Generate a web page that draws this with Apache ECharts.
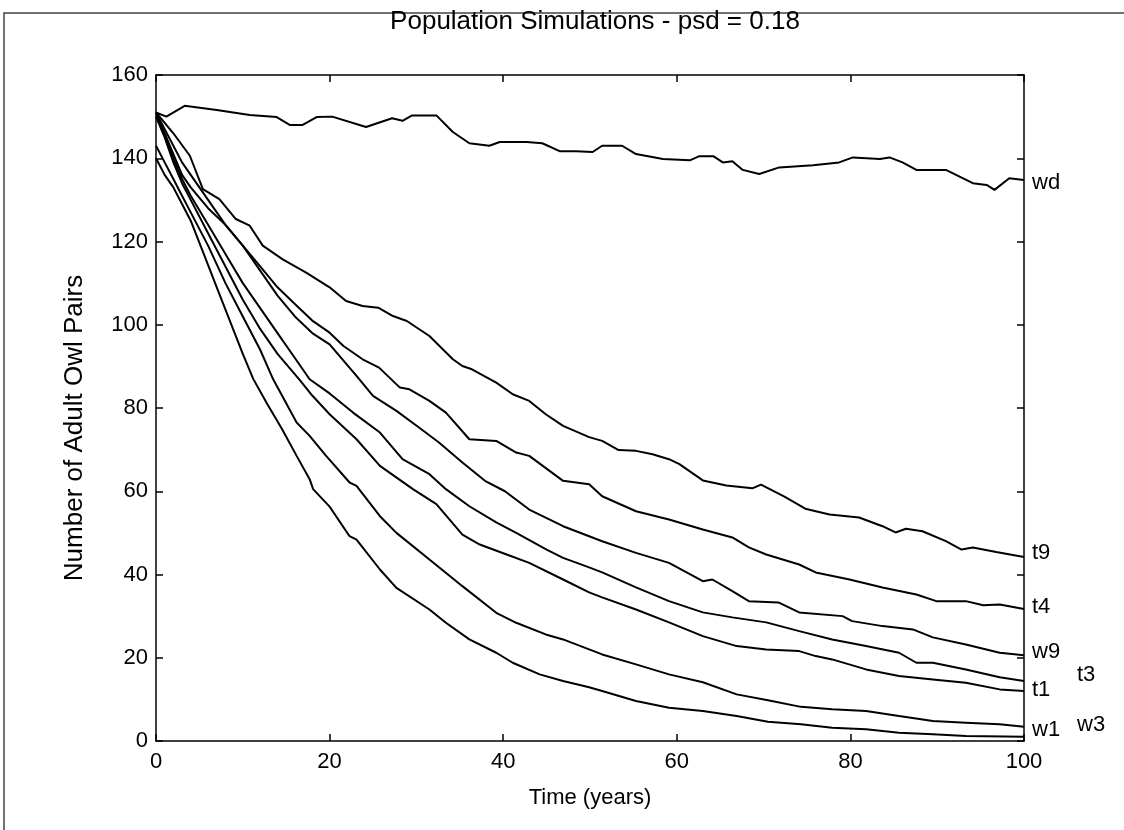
<!DOCTYPE html>
<html>
<head>
<meta charset="utf-8">
<title>Population Simulations</title>
<script src="https://cdn.jsdelivr.net/npm/echarts@6/dist/echarts.min.js"></script>
<style>
  html, body { margin: 0; padding: 0; background: #fff; }
  #chart { width: 1124px; height: 830px; }
</style>
</head>
<body>
<div id="chart"></div>
<script>
'use strict';
// axis ticks
var xTicks = [0, 20, 40, 60, 80, 100];
var yTicks = [0, 20, 40, 60, 80, 100, 120, 140, 160];

// series [year, pairs]
var wd = [[0,151],[1.2,150],[3.3,152.6],[7,151.6],[10.8,150.4],[13.9,149.9],[15.4,148],[16.9,148],[18.5,149.9],[20.3,150],
  [24.2,147.5],[27.2,149.6],[28.4,149],[29.5,150.3],[32.3,150.3],[34.2,146.3],[36.1,143.6],[38.4,143],[39.6,143.9],[42.7,143.9],
  [44.5,143.6],[46.5,141.7],[48.4,141.7],[50.3,141.5],[51.4,143],[53.7,143],[55.3,141],[58.4,139.8],[61.5,139.5],[62.6,140.5],
  [64.2,140.5],[65.3,139],[66.4,139.3],[67.6,137.2],[69.5,136.2],[71.8,137.8],[75.7,138.3],[78.7,139],[80.3,140.2],[83.4,139.8],
  [84.5,140.2],[86,139],[87.6,137.2],[91,137.2],[94.1,134],[95.7,133.6],[96.6,132.4],[98.3,135.2],[100,134.8]];
var t9 = [[0,151],[2,146],[3.9,140.6],[5.4,132.6],[7.3,130.2],[9.2,125.4],[10.8,123.8],[12.3,119],[14.6,115.7],[17.3,112.5],
  [20,109],[21.9,105.7],[23.8,104.5],[25.6,104.1],[27.3,102.1],[28.9,100.9],[31.5,97.3],[34.2,91.7],[35.3,90.1],[36.4,89.3],
  [39.2,86.1],[41.1,83.3],[43,81.7],[44.9,78.5],[46.9,75.7],[49.9,73],[51.4,72.1],[53.3,69.9],[55.3,69.7],[57.2,68.9],
  [59.1,67.7],[60.3,66.5],[63,62.6],[65.7,61.4],[68.7,60.7],[69.7,61.6],[72.4,58.7],[74.8,55.8],[77.6,54.4],[81,53.7],
  [83.7,51.6],[85.2,50.1],[86.4,51],[88.3,50.4],[91,48],[92.8,46],[94.1,46.5],[96.8,45.4],[100,44.2]];
var t4 = [[0,151],[1,147],[2,143],[3,139],[4,136],[6,130],[8,124],[10,119],[12,114],[14,109],[16,105],[18,101],[20,98.1],
  [21.6,94.9],[23.8,91.7],[25.7,89.7],[28.1,84.9],[29.2,84.5],[31.5,81.7],[33.4,78.9],[36.1,72.5],[39.2,72.1],[41.5,69.3],
  [43,68.5],[46.9,62.5],[49.9,61.7],[51.4,58.8],[55.3,55.2],[59.1,53.2],[63,50.8],[66.4,48.9],[68.3,46.5],[70.3,44.8],
  [74.1,42.4],[76,40.5],[79.9,38.8],[83.7,36.9],[87.6,35.2],[89.9,33.6],[93.3,33.6],[95.3,32.6],[97.2,32.8],[100,31.7]];
var w9 = [[0,150],[1,146],[2,141],[3,136],[4,133],[6,128],[8,124],[10,119],[12,113],[14,107],[16,102],[18,98],[20,95.3],
  [23.1,87.7],[25,82.9],[27.7,79.3],[30.3,75.3],[32.6,71.7],[35.3,66.9],[37.9,62.5],[40.2,60],[43,55.6],[46.9,51.6],
  [49.9,49.2],[51.4,48],[55.3,45.2],[59.1,42.8],[63,38.4],[64.1,38.8],[66.4,36],[68.3,33.6],[71.7,33.3],[74.1,30.9],
  [79.1,30],[80.2,28.8],[83.7,27.6],[87.2,26.8],[89.5,24.9],[93.3,23.2],[97.2,21.2],[100,20.6]];
var t3 = [[0,151],[1,146],[2,140],[3,135],[4,131],[6,124],[8,117],[10,110],[12,104],[14,98],[16,92],[17.7,86.9],[20,83.5],
  [22.7,78.9],[25.8,74.1],[28.4,67.7],[31.5,64.1],[33.4,60.5],[36.1,56.4],[39.2,52.5],[41.5,50],[45,46],[46.9,44],
  [49.9,41.7],[51.4,40.5],[55.3,36.9],[59.1,33.6],[63,30.9],[66.4,29.7],[70.3,28.5],[74.1,26.4],[77.9,24.4],[81.8,22.8],
  [85.6,21.2],[87.6,18.8],[89.5,18.8],[93.3,17.2],[97.2,15.3],[100,14.4]];
var t1 = [[0,150],[1,145],[2,139],[3,134],[4,130],[6,122],[8,114],[10,106],[12,99],[14,93],[16.5,86.9],[18,83],[20,78.5],
  [23.1,72.5],[25.8,66.1],[29.6,60.5],[32.3,56.9],[35.3,49.6],[37.3,47.2],[40.4,44.8],[43,42.8],[46.9,38.8],[49.9,35.7],
  [51.4,34.5],[55.3,31.6],[59.1,28.5],[63,25.2],[66.9,22.8],[70.3,22],[74.1,21.6],[76,20.4],[77.9,19.6],[81.8,17.2],
  [85.6,15.6],[89.5,14.8],[93.3,14],[97.2,12.4],[100,12]];
var w3 = [[0,143],[1,139],[2,135],[3,131],[4,127],[6,119],[8,110],[10,102],[12,94],[13.5,86.9],[16.2,76.5],[17.7,73.3],
  [19.6,68.5],[22.3,62.1],[23.1,61.3],[25.8,54],[27.7,50],[31.5,43.6],[35.3,37.2],[39.2,30.8],[41.5,28.4],[44.9,25.6],
  [46.9,24.4],[49.9,22],[51.4,20.8],[55.3,18.4],[59.1,16],[63,14.1],[66.9,11.2],[70.5,9.8],[74.3,8.2],[77.9,7.6],
  [81.8,7.2],[85.6,6],[89.5,4.8],[93.3,4.4],[97.2,4],[100,3.4]];
var w1 = [[0,140],[1,136],[2,133],[3,129],[4,125],[5.5,117],[7,109],[8.5,101],[10,93],[11.2,87],[12.8,81],[14.5,75],
  [16.2,68.5],[17.7,62.9],[18.1,60.5],[20,56.3],[22.3,49.2],[23.1,48.4],[25.8,41.2],[27.7,36.8],[31.5,31.6],[33.4,28.4],
  [36.1,24.4],[39.2,21.2],[41.1,18.8],[44.2,16],[46.9,14.4],[49.9,12.9],[51.4,12],[55.3,9.6],[59.1,8],[63,7.2],
  [66.9,6],[70.5,4.6],[74.3,4],[77.9,3.2],[81.8,2.8],[85.6,2],[89.5,1.6],[93.3,1.2],[100,1.0]];

var seriesNames = ['wd', 't9', 't4', 'w9', 't3', 't1', 'w3', 'w1'];
var seriesData = [wd, t9, t4, w9, t3, t1, w3, w1];
// where the end label sits next to the last point
var labelOffsets = {
  wd: [0, 3], t9: [0, -4], t4: [0, -2], w9: [0, -3],
  t3: [45, -6], t1: [0, -1], w3: [45, -2], w1: [0, -7]
};

var FONT = 'Liberation Sans, Arial, sans-serif';
var myChart = echarts.init(document.getElementById('chart'));

var series = seriesNames.map(function(name, i) {
  return {
    name: name,
    type: 'line',
    data: seriesData[i],
    showSymbol: false,
    silent: true,
    lineStyle: { color: '#000', width: 2 },
    endLabel: {
      show: true,
      formatter: '{a}',
      color: '#000',
      fontSize: 22,
      fontFamily: FONT,
      distance: 8,
      offset: labelOffsets[name]
    }
  };
});

// inside ticks on all four sides, like the original plot box
function sideAxis(position, showLabel) {
  return {
    type: 'value',
    position: position,
    min: 0,
    interval: 20,
    axisLine: { show: true, onZero: false, lineStyle: { color: '#000', width: 1.5 } },
    axisTick: { show: true, inside: true, length: 7, lineStyle: { color: '#000', width: 1.5 } },
    axisLabel: { show: showLabel, color: '#000', fontSize: 22, fontFamily: FONT },
    splitLine: { show: false }
  };
}

var xBottom = sideAxis('bottom', true);
xBottom.max = xTicks[xTicks.length - 1];
xBottom.name = 'Time (years)';
xBottom.nameLocation = 'middle';
xBottom.nameGap = 46;
xBottom.nameTextStyle = { color: '#000', fontSize: 22, fontFamily: FONT };
xBottom.axisLabel.margin = 10;
var xTop = sideAxis('top', false);
xTop.max = xTicks[xTicks.length - 1];

var yLeft = sideAxis('left', true);
yLeft.max = yTicks[yTicks.length - 1];
yLeft.name = 'Number of Adult Owl Pairs';
yLeft.nameLocation = 'middle';
yLeft.nameGap = 68;
// pushes the rotated name a little below the middle of the axis
yLeft.nameTextStyle = { color: '#000', fontSize: 26, fontFamily: FONT, padding: [0, 40, 0, 0] };
yLeft.axisLabel.margin = 8;
var yRight = sideAxis('right', false);
yRight.max = yTicks[yTicks.length - 1];

var option = {
  backgroundColor: '#fff',
  animation: false,
  title: {
    text: 'Population Simulations - psd = 0.18',
    left: 590,
    textAlign: 'center',
    top: 4,
    textStyle: { color: '#000', fontSize: 26, fontWeight: 'normal', fontFamily: FONT }
  },
  grid: { left: 156, right: 100, top: 75, bottom: 89 },
  xAxis: [xBottom, xTop],
  yAxis: [yLeft, yRight],
  series: series,
  graphic: [{
    type: 'polyline',
    silent: true,
    shape: { points: [[4, 830], [4, 13], [1124, 13]] },
    style: { stroke: '#444', lineWidth: 1.5, fill: null }
  }]
};
myChart.setOption(option);
</script>
</body>
</html>
